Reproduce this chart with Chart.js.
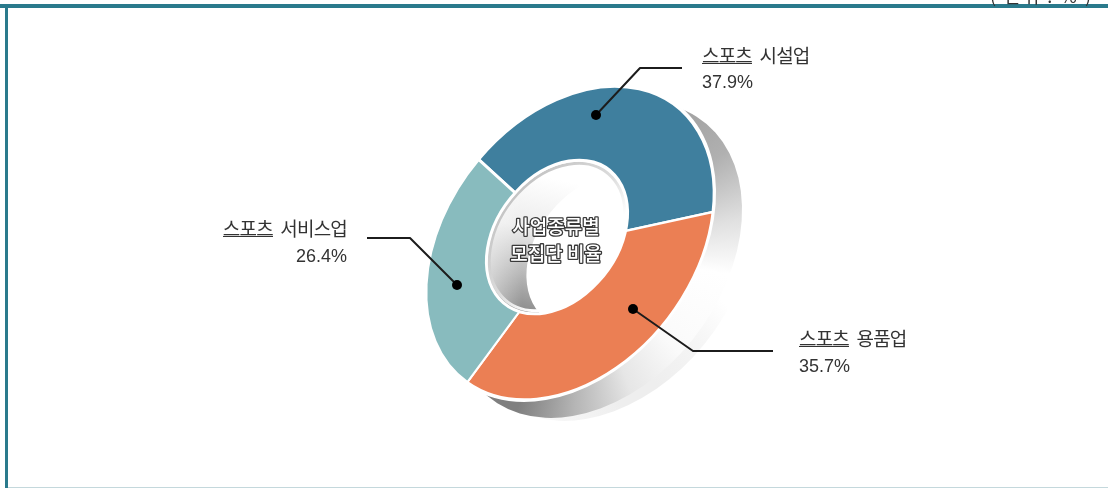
<!DOCTYPE html>
<html lang="ko">
<head>
<meta charset="utf-8">
<style>html,body{margin:0;padding:0;background:#fff}canvas{display:block}</style>
<script src="https://cdn.jsdelivr.net/npm/chart.js@4"></script>
</head>
<body>
<canvas id="c" width="1108" height="488"></canvas>
<script>
const categories = ['스포츠 시설업', '스포츠 용품업', '스포츠 서비스업'];
const values = [37.9, 35.7, 26.4];
const colors = ['#3F7F9E', '#EB7F54', '#88BBBE'];
const centerTitle = ['사업종류별', '모집단 비율'];
const unitLabel = '( 단위 : % )';

const FONT = '"Noto Sans CJK KR","Noto Sans",sans-serif';
const NUMFONT = '"Liberation Sans",Arial,sans-serif';
// tilted-disc projection of the pie (symmetric matrix, per unit radius)
const TILT = [143 / 150, -24.3 / 150, -24.3 / 150, 156 / 150];
const R = 150;

function ellipse(ctx, x, y, r) {
  ctx.save();
  ctx.translate(x, y);
  ctx.transform(TILT[0], TILT[1], TILT[2], TILT[3], 0, 0);
  ctx.beginPath();
  ctx.arc(0, 0, r, 0, Math.PI * 2);
  ctx.closePath();
  ctx.restore();
}

const callouts = [
  { pts: [[596,115],[640,68],[682,68]], x: 702, y: 63, line2: 88, align: 'left', ul: [702,752,63] },
  { pts: [[633,309],[693,351],[773,351]], x: 799, y: 346, line2: 372, align: 'left', ul: [799,849,346] },
  { pts: [[457,285],[410,238],[367,238]], x: 347, y: 236, line2: 262, align: 'right', ul: [223,273,236] }
];

const tiltPlugin = {
  id: 'tilt',
  beforeDraw(chart) {
    const ctx = chart.ctx;
    ctx.save();
    ctx.fillStyle = '#fff';
    ctx.fillRect(0, 0, 1108, 488);
    ctx.fillStyle = '#2A7A8C';
    ctx.fillRect(0, 4, 1108, 4);
    ctx.fillRect(5, 4, 3, 484);
    ctx.fillStyle = '#C4D8DC';
    ctx.fillRect(8, 487, 1100, 1);
    ctx.fillStyle = '#333';
    ctx.font = '18px ' + FONT;
    ctx.letterSpacing = '2px';
    ctx.textAlign = 'left';
    ctx.textBaseline = 'alphabetic';
    ctx.fillText(unitLabel, 990, 3);
    ctx.letterSpacing = '0px';
    ctx.restore();
  },
  beforeDatasetsDraw(chart) {
    const ctx = chart.ctx;
    const arc = chart.getDatasetMeta(0).data[0];
    const cx = arc.x, cy = arc.y;
    // soft cast shadow, lower right only
    ctx.save();
    const sg = ctx.createRadialGradient(640, 395, 20, 640, 395, 125);
    sg.addColorStop(0, '#eeeeee');
    sg.addColorStop(0.6, '#f6f6f6');
    sg.addColorStop(1, '#ffffff');
    ellipse(ctx, cx + 40, cy + 20, R);
    ctx.fillStyle = sg;
    ctx.fill();
    // extruded side
    const g = ctx.createConicGradient(-Math.PI * 0.75, cx + 10, cy + 10);
    const deg = a => ((a + 135 + 360) % 360) / 360;
    g.addColorStop(0, '#dddddd');
    g.addColorStop(deg(-65), '#999999');
    g.addColorStop(deg(-35), '#b0b0b0');
    g.addColorStop(deg(-12), '#e0e0e0');
    g.addColorStop(deg(8), '#ffffff');
    g.addColorStop(deg(45), '#fafafa');
    g.addColorStop(deg(70), '#e6e6e6');
    g.addColorStop(deg(92), '#b5b5b5');
    g.addColorStop(deg(112), '#7f7f7f');
    g.addColorStop(deg(130), '#7f7f7f');
    g.addColorStop(1, '#dddddd');
    ellipse(ctx, cx + 27, cy + 17, R);
    ctx.fillStyle = g;
    ctx.fill();
    ctx.restore();
    // tilt the library's own arcs
    ctx.save();
    ctx.translate(cx, cy);
    ctx.transform(TILT[0], TILT[1], TILT[2], TILT[3], 0, 0);
    ctx.translate(-cx, -cy);
  },
  afterDatasetsDraw(chart) {
    const ctx = chart.ctx;
    ctx.restore();
    const arc = chart.getDatasetMeta(0).data[0];
    const cx = arc.x, cy = arc.y;
    // white outer edge
    ctx.save();
    ellipse(ctx, cx, cy, R);
    ctx.strokeStyle = '#fff';
    ctx.lineWidth = 2;
    ctx.stroke();
    // hole
    const hx = cx - 13, hy = cy - 6, hr = 73;
    ctx.save();
    ellipse(ctx, hx, hy, hr);
    ctx.clip();
    const hg = ctx.createLinearGradient(560, 180, 530, 312);
    hg.addColorStop(0, '#ffffff');
    hg.addColorStop(0.4, '#ececec');
    hg.addColorStop(1, '#8e8e8e');
    ctx.fillStyle = hg;
    ctx.fillRect(470, 150, 170, 175);
    ellipse(ctx, hx + 40, hy + 14, hr);
    ctx.fillStyle = '#fff';
    ctx.fill();
    // left fade
    const lf = ctx.createLinearGradient(486, 0, 522, 0);
    lf.addColorStop(0, 'rgba(255,255,255,0.55)');
    lf.addColorStop(1, 'rgba(255,255,255,0)');
    ctx.fillStyle = lf;
    ctx.fillRect(470, 150, 60, 175);
    // upper-left rim
    const rim = ctx.createLinearGradient(510, 185, 610, 280);
    rim.addColorStop(0, '#c0c0c0');
    rim.addColorStop(0.5, '#dcdcdc');
    rim.addColorStop(0.75, '#ffffff');
    rim.addColorStop(1, '#ffffff');
    ellipse(ctx, hx, hy, hr - 3);
    ctx.strokeStyle = rim;
    ctx.lineWidth = 3;
    ctx.stroke();
    ctx.restore();
    ellipse(ctx, hx, hy, hr);
    ctx.strokeStyle = '#fff';
    ctx.lineWidth = 3;
    ctx.stroke();
    // centre title
    ctx.font = '500 19px ' + FONT;
    ctx.textAlign = 'center';
    ctx.textBaseline = 'alphabetic';
    ctx.lineJoin = 'round';
    centerTitle.forEach((t, i) => {
      const y = 234 + i * 27;
      ctx.strokeStyle = '#3a3a3a';
      ctx.lineWidth = 2.6;
      ctx.strokeText(t, 556, y);
      ctx.fillStyle = '#fff';
      ctx.fillText(t, 556, y);
    });
    // callouts
    callouts.forEach((c, i) => {
      ctx.strokeStyle = '#1c1c1c';
      ctx.lineWidth = 2;
      ctx.beginPath();
      c.pts.forEach((p, k) => k ? ctx.lineTo(p[0], p[1]) : ctx.moveTo(p[0], p[1]));
      ctx.stroke();
      ctx.fillStyle = '#000';
      ctx.beginPath();
      ctx.arc(c.pts[0][0], c.pts[0][1], 5, 0, Math.PI * 2);
      ctx.fill();
      ctx.fillStyle = '#333';
      ctx.font = '19px ' + FONT;
      ctx.letterSpacing = '-0.8px';
      ctx.wordSpacing = '4px';
      ctx.textAlign = c.align;
      ctx.fillText(categories[i], c.x, c.y);
      ctx.letterSpacing = '0px';
      ctx.wordSpacing = '0px';
      ctx.font = '18px ' + NUMFONT;
      ctx.fillText(values[i].toFixed(1) + '%', c.x, c.line2);
      ctx.strokeStyle = '#333';
      ctx.lineWidth = 1;
      ctx.beginPath();
      ctx.moveTo(c.ul[0], c.ul[2] + 0.5);
      ctx.lineTo(c.ul[1], c.ul[2] + 0.5);
      ctx.stroke();
    });
    ctx.restore();
  }
};

new Chart(document.getElementById('c'), {
  type: 'pie',
  data: {
    labels: categories,
    datasets: [{
      data: values,
      backgroundColor: colors,
      borderColor: '#fff',
      borderWidth: 2.5,
      hoverOffset: 0
    }]
  },
  options: {
    responsive: false,
    animation: false,
    rotation: -49,
    layout: { padding: { left: 32, right: 0, top: 93, bottom: 95 } },
    plugins: { legend: { display: false }, tooltip: { enabled: false } },
    events: []
  },
  plugins: [tiltPlugin]
});
</script>
</body>
</html>
